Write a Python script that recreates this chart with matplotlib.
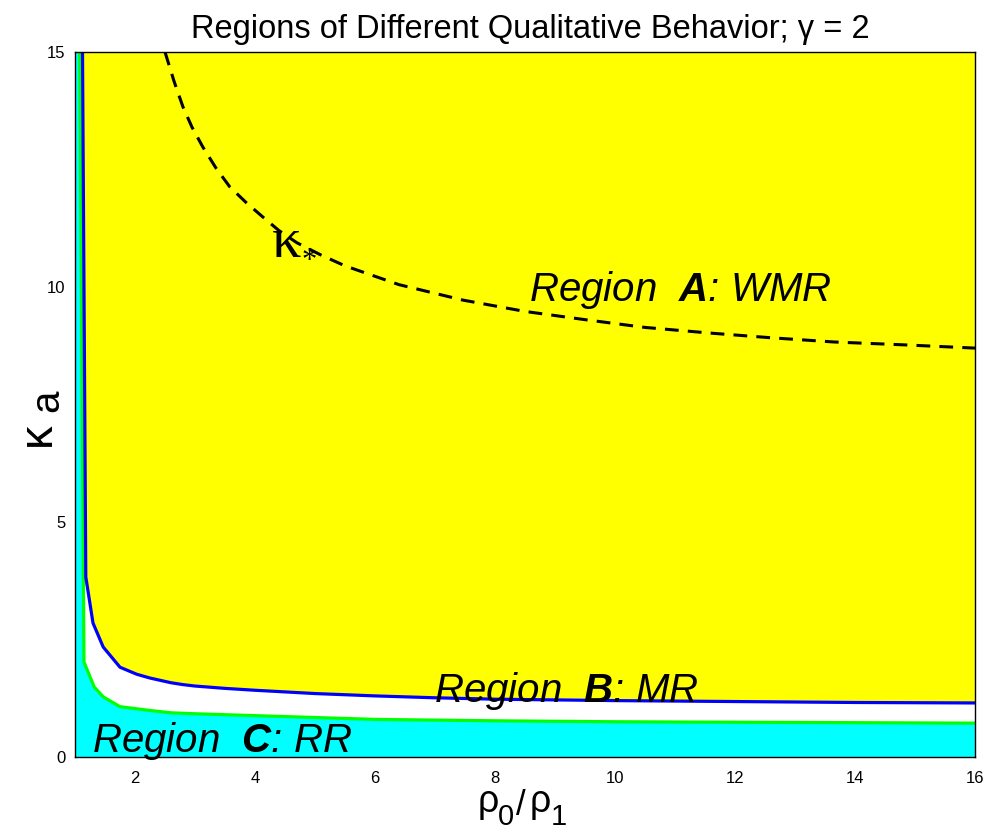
import numpy as np
import matplotlib
matplotlib.use("Agg")
import matplotlib.pyplot as plt

plt.rcParams['font.family'] = ['Liberation Sans', 'DejaVu Sans']
plt.rcParams['mathtext.fontset'] = 'custom'
plt.rcParams['mathtext.rm'] = 'Liberation Sans'
plt.rcParams['mathtext.it'] = 'Liberation Sans:italic'
plt.rcParams['mathtext.bf'] = 'Liberation Sans:bold:italic'

# Boundary between region B (MR) and region A (WMR)
blue_x = [1.125, 1.18, 1.30, 1.47, 1.75, 2.03, 2.25, 2.6, 2.8, 3.0, 3.5, 4.0, 5.0, 6.0, 7.0, 8.0, 10.0, 12.0, 14.0, 16.0]
blue_y = [15.0, 3.83, 2.85, 2.34, 1.91, 1.76, 1.68, 1.58, 1.54, 1.51, 1.46, 1.42, 1.35, 1.30, 1.26, 1.23, 1.20, 1.18, 1.16, 1.15]

# Boundary between region C (RR) and region B (MR)
green_x = [1.078, 1.15, 1.32, 1.47, 1.75, 2.25, 2.6, 3.0, 4.0, 5.0, 6.0, 8.0, 10.0, 12.0, 14.0, 16.0]
green_y = [15.0, 2.02, 1.49, 1.28, 1.07, 0.99, 0.94, 0.92, 0.88, 0.84, 0.80, 0.77, 0.75, 0.74, 0.73, 0.72]

# kappa_* curve
kstar_x = [2.5, 2.65, 2.8, 2.95, 3.13, 3.35, 3.58, 3.85, 4.13, 4.4, 4.70, 5.1, 5.5,
           6.4, 7.47, 8.5, 9.53, 10.5, 11.58, 12.6, 13.65, 14.8, 16.0]
kstar_y = [15.0, 14.38, 13.83, 13.40, 12.98, 12.53, 12.13, 11.80, 11.49, 11.20, 10.94, 10.68, 10.45,
           10.05, 9.72, 9.48, 9.30, 9.14, 9.02, 8.92, 8.83, 8.77, 8.70]

x_ticks = [2, 4, 6, 8, 10, 12, 14, 16]
y_ticks = [0, 5, 10, 15]

W, H = 988, 833
fig = plt.figure(figsize=(W / 100, H / 100), dpi=100)
ax = fig.add_axes([75 / W, 1 - 757 / H, 900 / W, 705 / H])


def ftext(px, py, s, **kw):
    """Place text at pixel coordinates measured from the top-left corner."""
    return fig.text(px / W, 1 - py / H, s, **kw)


# Region fills
ax.fill(np.r_[1, 1, green_x, 16], np.r_[0, 15, green_y, 0], color='#00ffff', lw=0, zorder=1)
ax.fill(np.r_[blue_x, 16], np.r_[blue_y, 15], color='#ffff00', lw=0, zorder=1)

ax.plot(green_x, green_y, color='#00ff00', lw=2.3, zorder=3)
ax.plot(blue_x, blue_y, color='#0000ff', lw=2.3, zorder=3)
ax.plot(kstar_x, kstar_y, color='black', lw=2.2, linestyle=(0, (4.5, 3.0)), zorder=4)

ax.set_xlim(1, 16)
ax.set_ylim(0, 15)
ax.set_xticks(x_ticks)
ax.set_yticks(y_ticks)
ax.tick_params(length=0, labelsize=12)
ax.tick_params(axis='x', pad=10)
ax.tick_params(axis='y', pad=7)
for s in ax.spines.values():
    s.set_linewidth(1.0)
    s.set_zorder(5)

# Title
ftext(530, 38, 'Regions of Different Qualitative Behavior; γ = 2', fontsize=23.5,
      ha='center', va='baseline')

# x label: rho_0 / rho_1
xl = dict(va='baseline', ha='left')
ftext(478, 812, 'ρ', fontsize=27, **xl)
ftext(498, 825, '0', fontsize=21, **xl)
ftext(516, 815, '/', fontsize=25, **xl)
ftext(530, 812, 'ρ', fontsize=27, **xl)
ftext(551, 825, '1', fontsize=21, **xl)

# y label: kappa_a (rotated)
yl = dict(rotation=90, rotation_mode='anchor', va='baseline', ha='left')
ftext(50, 446, 'κ', fontsize=34, **yl)
ftext(58, 412, 'a', fontsize=29, **yl)

lbl = dict(fontsize=29, style='italic', va='baseline', ha='left', zorder=6)
ax.text(8.57, 9.70, r'Region  $\mathbf{A}$: WMR', **lbl)
ax.text(6.98, 1.17, r'Region  $\mathbf{B}$: MR', **lbl)
ax.text(1.28, 0.11, r'Region  $\mathbf{C}$: RR', **lbl)

ax.text(4.28, 10.64, 'κ', fontsize=42, family='Liberation Serif',
        va='baseline', ha='left', zorder=6)
ax.text(4.90, 10.55, '*', fontsize=22, family='Liberation Serif',
        va='center', ha='center', zorder=6)

fig.savefig('out.png', dpi=100)
